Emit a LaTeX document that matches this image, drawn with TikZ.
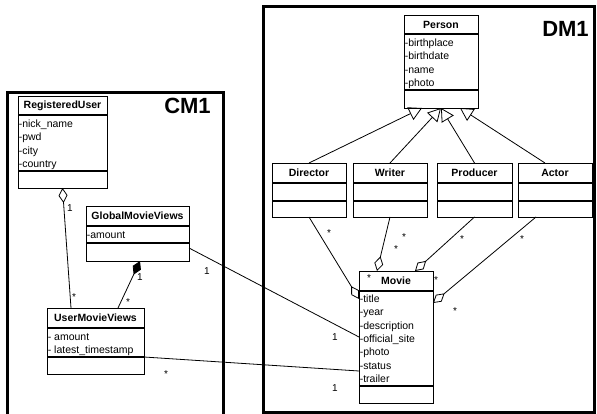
\documentclass[tikz,border=0pt]{standalone}
\usepackage{fontspec}
\setmainfont{Liberation Sans}
\usetikzlibrary{arrows.meta}
\newcommand\umlclass[8]{%
  \node[clsbox, anchor=north west, minimum width=#4pt, minimum height=#5pt] (#1) at (#2,#3) {};
  \draw[sepline] ([yshift=-#6pt]#1.north west) -- ([yshift=-#6pt]#1.north east);
  \draw[sepline] ([yshift=-#7pt]#1.north west) -- ([yshift=-#7pt]#1.north east);
  \node[ttl] (#1-name) at ([yshift={-#6/2*1pt}]#1.north) {#8};
}
\newcommand\umlattrs[3]{%
  \foreach \a [count=\i] in {#3} {\node[attr] (#1-a\i) at ([xshift=0.6pt,yshift={-(#2+13.33*(\i-1))*1pt}]#1.north west) {\a};}
}
\begin{document}
\begin{tikzpicture}[x=1pt,y=-1pt,
  clsbox/.style={draw, line width=0.9pt, inner sep=0pt, outer sep=0pt, fill=white},
  sepline/.style={line width=1.1pt},
  ttl/.style={font=\fontsize{10.5}{12}\selectfont\bfseries, inner sep=0pt},
  attr/.style={font=\fontsize{10.5}{12}\selectfont, inner sep=0pt, anchor=base west},
  lbl/.style={font=\fontsize{10}{12}\selectfont, inner sep=0pt},
  pkg/.style={draw, line width=3pt, inner sep=0pt, outer sep=0pt, anchor=north west},
  conn/.style={line width=0.8pt},
  big/.style={font=\fontsize{22}{24}\selectfont\bfseries, inner sep=0pt},
  aggr/.style={conn, {Diamond[open,length=15pt,width=9pt,line width=0.8pt]}-},
  comp/.style={conn, {Diamond[length=15pt,width=9pt]}-},
  gen/.style={conn, -{Triangle[open,length=13pt,width=14pt,line width=0.8pt]}},
]
\useasboundingbox (0,0) rectangle (597,414);
% packages
\node[pkg, minimum width=216pt, minimum height=330pt] (cm1) at (7,93) {};
\node[pkg, minimum width=331pt, minimum height=405pt] (dm1) at (263,7) {};
\node[big] (cm1-name) at (187.5,106) {CM1};
\node[big] (dm1-name) at (565.5,29) {DM1};
% CM1 classes
\umlclass{ru}{18}{96}{89}{92}{19}{75}{RegisteredUser}
\umlattrs{ru}{31.5}{-nick\_name,-pwd,-city,-country}
\umlclass{gmv}{86}{206}{103}{55}{20}{37}{GlobalMovieViews}
\umlattrs{gmv}{32}{-amount}
\umlclass{umv}{47}{308}{97}{66}{20}{49}{UserMovieViews}
\umlattrs{umv}{32}{- amount,- latest\_timestamp}
% DM1 classes
\umlclass{person}{404}{15}{74}{93}{19}{75}{Person}
\umlattrs{person}{31.5}{-birthplace,-birthdate,-name,-photo}
\umlclass{director}{272}{163}{74}{54}{20}{38}{Director}
\umlclass{writer}{353}{163}{74}{54}{20}{38}{Writer}
\umlclass{producer}{437}{163}{75}{54}{20}{38}{Producer}
\umlclass{actor}{518}{163}{74}{54}{20}{38}{Actor}
\umlclass{movie}{359}{271}{74}{132}{20}{115}{Movie}
\umlattrs{movie}{31.5}{-title,-year,-description,-official\_site,-photo,-status,-trailer}
% generalizations
\draw[gen] (director.north) -- ([xshift=-19pt]person.south);
\draw[gen] (writer.north) -- (person.south);
\draw[gen] (producer.north) -- (person.south);
\draw[gen] ([xshift=-10pt]actor.north) -- ([xshift=19pt]person.south);
% aggregations to Movie
\draw[aggr] ([yshift=38pt]movie.west) -- (director.south);
\draw[aggr] ([xshift=-19pt]movie.north) -- (writer.south);
\draw[aggr] ([xshift=19pt]movie.north) -- (producer.south);
\draw[aggr] ([yshift=34pt]movie.east) -- ([xshift=-19pt]actor.south);
% CM1 associations
\draw[aggr] (ru.south) -- ([xshift=-24.5pt]umv.north);
\draw[comp] ([xshift=2.5pt]gmv.south) -- ([xshift=22.5pt]umv.north);
\draw[conn] ([yshift=-14.5pt]gmv.east) -- (movie.west);
\draw[conn] ([yshift=-16pt]umv.east) -- ([yshift=-34pt]movie.west);
% multiplicities
\node[lbl] (m1) at (70,208) {1};
\node[lbl] (m2) at (74,297) {*};
\node[lbl] (m3) at (140,277) {1};
\node[lbl] (m4) at (128,302) {*};
\node[lbl] (m5) at (207,271) {1};
\node[lbl] (m6) at (166,374) {*};
\node[lbl] (m7) at (329,233) {*};
\node[lbl] (m8) at (404,237) {*};
\node[lbl] (m9) at (396,249) {*};
\node[lbl] (m10) at (369,278) {*};
\node[lbl] (m11) at (462,239) {*};
\node[lbl] (m12) at (522,239) {*};
\node[lbl] (m13) at (436,280) {*};
\node[lbl] (m14) at (455,311) {*};
\node[lbl] (m15) at (335,337) {1};
\node[lbl] (m16) at (335,388) {1};
\end{tikzpicture}
\end{document}
